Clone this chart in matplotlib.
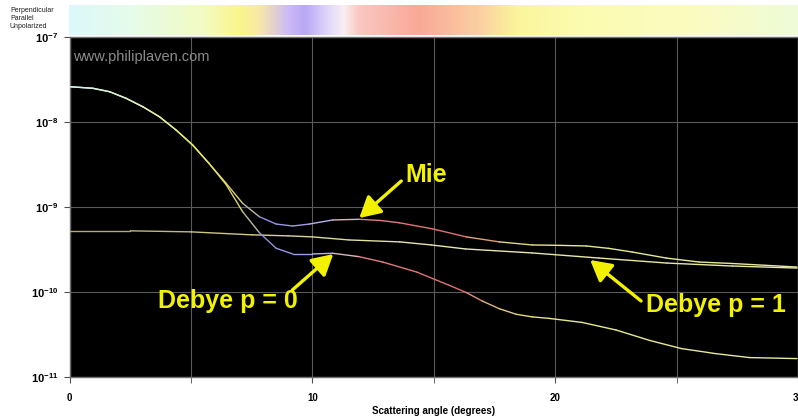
import numpy as np
import matplotlib
matplotlib.use("Agg")
import matplotlib.pyplot as plt
from matplotlib.collections import LineCollection
from matplotlib.colors import LinearSegmentedColormap
from matplotlib.ticker import FixedLocator, FuncFormatter, NullFormatter

plt.rcParams['font.family'] = ['Liberation Sans', 'DejaVu Sans']
plt.rcParams['mathtext.fontset'] = 'custom'
plt.rcParams['mathtext.rm'] = 'Liberation Sans'
plt.rcParams['mathtext.bf'] = 'Liberation Sans:bold'

# ---------------- data ----------------
mie_angle = [0, 0.96, 1.65, 2.33, 3.02, 3.70, 4.39, 5.07, 5.74, 6.45, 7.13, 7.82,
             8.51, 9.19, 9.88, 10.84, 11.93, 12.8, 13.58, 14.94, 16.34, 17.70,
             19.05, 20.2, 21.28, 22.2, 23.17, 24.57, 25.93, 27.28, 29.96]
mie_log = [-7.588, -7.607, -7.647, -7.725, -7.824, -7.941, -8.098, -8.274, -8.489,
           -8.725, -8.960, -9.118, -9.204, -9.227, -9.204, -9.156, -9.148, -9.162,
           -9.189, -9.260, -9.355, -9.414, -9.450, -9.455, -9.462, -9.490, -9.533,
           -9.604, -9.651, -9.668, -9.710]

p0_angle = [0, 0.96, 1.65, 2.33, 3.02, 3.70, 4.39, 5.07, 5.74, 6.45, 7.13, 7.82,
            8.51, 9.19, 10.0, 10.84, 11.93, 12.9, 14.3, 15.64, 16.34, 17.0, 17.7,
            18.4, 19.05, 19.75, 21.1, 22.5, 23.9, 25.2, 26.6, 28.0, 29.96]
p0_log = [-7.588, -7.607, -7.647, -7.725, -7.824, -7.941, -8.098, -8.274, -8.489,
          -8.740, -9.059, -9.306, -9.489, -9.556, -9.556, -9.548, -9.588, -9.651,
          -9.769, -9.925, -10.01, -10.11, -10.200, -10.266, -10.296, -10.314,
          -10.361, -10.450, -10.574, -10.669, -10.728, -10.775, -10.787]

p1_angle = [0, 2.5, 5.0, 7.5, 9.0, 10.0, 11.5, 13.6, 14.9, 16.3, 19.05, 21.8,
            24.6, 27.3, 29.96]
p1_log = [-9.284, -9.284, -9.296, -9.331, -9.343, -9.355, -9.391, -9.414, -9.450,
          -9.497, -9.544, -9.604, -9.663, -9.698, -9.722]

# colour scale (angle -> colour) of the top strip
bar_stops = [0, 2.5, 5.4, 7.0, 7.8, 9.05, 9.7, 10.7, 11.3, 11.9, 14.4, 16.9, 18.5,
             21.0, 25.9, 30.0]
bar_colors = ['#dcf8fb', '#e6fbea', '#f2fcc4', '#fbf68a', '#fae8a8', '#cbb8f8',
              '#b8a8f5', '#e2dafa', '#fbeef2', '#f9c8c2', '#f9a898', '#fbcfa2',
              '#fbf59c', '#fbfbb0', '#fbfbc2', '#eefbd8']

curve_stops = [0, 3.0, 5.5, 7.0, 8.0, 10.0, 11.0, 12.2, 16.0, 18.0, 20.0, 30.0]
curve_colors = ['#d0f4f4', '#e0f0b0', '#e8e860', '#d8d070', '#9090e0', '#a0a0f0',
                '#d8d0e8', '#e08080', '#e07070', '#e0d080', '#e8e890', '#e8e8a0']

p1_stops = [0, 8.0, 15.0, 30.0]
p1_colors = ['#b0a070', '#d8d090', '#e8e8b0', '#e8e8a0']

x_major = [0, 10, 20, 30]
x_minor = [5, 15, 25]
y_ticks = [1e-11, 1e-10, 1e-9, 1e-8, 1e-7]


def make_cmap(stops, colors, name):
    return LinearSegmentedColormap.from_list(
        name, [(s / 30.0, c) for s, c in zip(stops, colors)])


cm_bar = make_cmap(bar_stops, bar_colors, 'bar')
cm_curve = make_cmap(curve_stops, curve_colors, 'curve')
cm_p1 = make_cmap(p1_stops, p1_colors, 'p1')

fig = plt.figure(figsize=(7.98, 4.18), dpi=100)
fig.patch.set_facecolor('white')

# ---------------- top colour strip ----------------
axb = fig.add_axes([69 / 798, 1 - 35 / 418, 1 - 69 / 798, 30 / 418])
grad = np.linspace(0, 1, 512)[None, :]
axb.imshow(grad, aspect='auto', cmap=cm_bar, extent=[0, 30, 0, 1])
axb.set_axis_off()

# ---------------- main axes ----------------
ax = fig.add_axes([69.5 / 798, 1 - 376.7 / 418, 1 - 69.5 / 798, 340 / 418])
ax.set_facecolor('black')
ax.set_yscale('log')
ax.set_xlim(0, 30)
ax.set_ylim(1e-11, 1e-7)


def colored_line(xs, logs, cmap, lw=1.0):
    xs = np.asarray(xs, float)
    ys = 10 ** np.asarray(logs, float)
    pts = np.column_stack([xs, ys]).reshape(-1, 1, 2)
    segs = np.concatenate([pts[:-1], pts[1:]], axis=1)
    mids = (xs[:-1] + xs[1:]) / 2 / 30.0
    lc = LineCollection(segs, colors=cmap(mids), linewidths=lw, zorder=3,
                        capstyle='round', joinstyle='round')
    ax.add_collection(lc)


colored_line(p1_angle, p1_log, cm_p1)
colored_line(p0_angle, p0_log, cm_curve)
colored_line(mie_angle, mie_log, cm_curve)

ax.xaxis.set_major_locator(FixedLocator(x_major))
ax.xaxis.set_minor_locator(FixedLocator(x_minor))
ax.xaxis.set_minor_formatter(NullFormatter())
ax.yaxis.set_major_locator(FixedLocator(y_ticks))
ax.yaxis.set_minor_locator(FixedLocator([]))
ax.yaxis.set_major_formatter(
    FuncFormatter(lambda v, p: r'$\mathbf{10^{%d}}$' % int(round(np.log10(v)))))
ax.xaxis.set_major_formatter(FuncFormatter(lambda v, p: '%d' % v))

ax.grid(True, which='both', color='#5a5a5a', lw=0.8)
ax.set_axisbelow(True)
ax.tick_params(axis='x', which='both', length=4, color='#505050', pad=8,
               labelsize=7)
ax.tick_params(axis='y', which='both', length=4, color='#505050', pad=4,
               labelsize=8)
for lab in ax.get_xticklabels():
    lab.set_fontweight('bold')
for s in ax.spines.values():
    s.set_color('#707070')
    s.set_linewidth(1.0)

ax.set_xlabel('Scattering angle (degrees)', fontsize=7, fontweight='bold',
              labelpad=2)

# watermark
ax.text(0.15, 10 ** -7.24, 'www.philiplaven.com', color='#8c8c8c', fontsize=10.5,
        va='center', ha='left')

# ---------------- annotations ----------------
yellow = '#f2f200'
aprops = dict(arrowstyle='-|>,head_length=0.9,head_width=0.5', color=yellow,
              lw=2.4, mutation_scale=14, shrinkA=0, shrinkB=0)


def px2data(px, py):
    return (px - 70) / 24.3, 10 ** (-7 - (py - 36.7) / 85.0)


ax.text(*px2data(427, 175), 'Mie', color=yellow, fontsize=18, ha='center',
        va='center', fontweight='bold')
ax.annotate('', xy=px2data(360, 218), xytext=px2data(402, 181),
            arrowprops=aprops)

ax.text(*px2data(228, 301), 'Debye p = 0', color=yellow, fontsize=18,
        ha='center', va='center', fontweight='bold')
ax.annotate('', xy=px2data(334, 254), xytext=px2data(293, 290),
            arrowprops=aprops)

ax.text(*px2data(717, 305), 'Debye p = 1', color=yellow, fontsize=18,
        ha='center', va='center', fontweight='bold')
ax.annotate('', xy=px2data(591, 260), xytext=px2data(642, 301),
            arrowprops=aprops)

# top-left legend text
fig.text(10 / 798, 1 - 7 / 418, 'Perpendicular\nParallel\nUnpolarized',
         fontsize=5, color='#202020', va='top', ha='left', linespacing=1.25)

fig.savefig('out.png', dpi=100, facecolor='white')
